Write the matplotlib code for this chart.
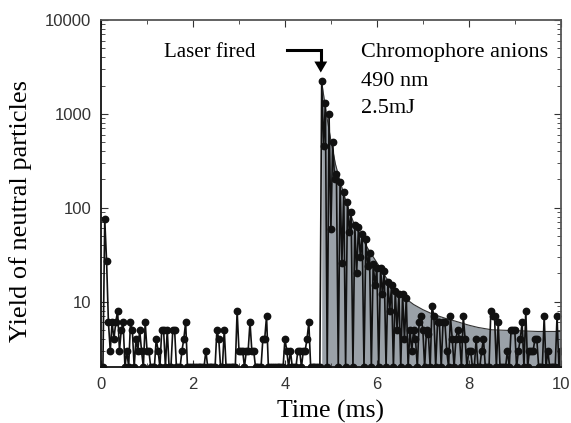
import numpy as np
import matplotlib
matplotlib.use("Agg")
import matplotlib.pyplot as plt
from matplotlib.ticker import LogLocator, NullFormatter, MultipleLocator, FixedLocator

# ---- data ----
dt = 0.04
baseline_counts = [
    2, 75, 27, 6, 3, 6, 4, 6, 8, 3, 5, 6, 2, 3, 2, 6, 5, 2, 4, 3,
    5, 3, 2, 6, 3, 3, 2, 2, 2, 4, 3, 2, 5, 5, 2, 5, 2, 2, 5, 5,
    2, 2, 2, 3, 4, 6, 2, 2, 2, 2, 2, 2, 2, 2, 2, 2, 3, 2, 2, 2,
    2, 2, 5, 4, 2, 2, 5, 2, 2, 2, 2, 2, 2, 8, 3, 3, 3, 2, 3, 3,
    6, 3, 3, 2, 2, 2, 2, 4, 4, 7, 2, 2, 2, 2, 2, 2, 2, 2, 2, 4,
    3, 2, 3, 2, 2, 2, 3, 3, 2, 3, 3, 4, 6, 2, 2, 2, 2, 2, 2,
]
decay_counts = [
    2260, 456, 1300, 2, 1000, 59, 500, 200, 228, 2,
    187, 26, 147, 2, 115, 55, 89, 2, 65, 20,
    62, 30, 52, 2, 46, 24, 33, 2, 25, 15,
    23, 2, 23, 12, 21, 2, 16, 8, 15, 2,
    13, 5, 12, 2, 12, 4, 11, 2, 5, 3,
    5, 4, 2, 6, 7, 5, 2, 5, 4.5, 2,
    9, 7, 2, 6, 6, 2, 6, 6, 3, 2,
    7, 4, 2, 4, 5, 4, 2, 7, 4, 2,
    3, 3, 2, 2, 4, 2, 2, 3, 4, 2,
    2, 2, 8, 7, 7, 2, 6, 2, 2, 2,
    2, 3, 2, 5, 5, 5, 2, 3, 4, 6,
    2, 8, 2, 3, 3, 3, 4, 4, 2, 2,
    2, 7, 2, 3, 2, 2, 2, 2, 7, 2,
    3,
]
counts = baseline_counts + decay_counts
time_ms = np.round(dt * (np.arange(len(counts)) + 1), 2)

fit_t = [4.8, 4.9, 5.0, 5.1, 5.2, 5.3, 5.4, 5.5, 5.6, 5.7, 5.8, 6.0, 6.2,
         6.4, 6.6, 6.8, 7.0, 7.2, 7.5, 7.7, 8.0, 8.2, 8.5, 9.0, 9.5, 10.0]
fit_y = [2200, 1000, 520, 290, 190, 130, 92, 68, 55, 45, 37, 26, 18,
         13.5, 11, 9.3, 8.2, 7.4, 6.6, 6.2, 5.6, 5.3, 5.0, 4.9, 4.8, 4.8]

x_ticks = [0, 2, 4, 6, 8, 10]
y_ticks = [10, 100, 1000, 10000]
y_ticklabels = ["10", "100", "1000", "10000"]

# ---- figure ----
fig = plt.figure(figsize=(5.71, 4.23), dpi=100)
ax = fig.add_axes([0.177, 0.132, 0.805, 0.821])

ax.fill_between(fit_t, fit_y, 1.0, color="#9aa1a8", lw=0, zorder=1)
ax.plot(fit_t, fit_y, color="#333333", lw=0.8, zorder=1.5)
ax.plot(time_ms, counts, color="#111111", lw=1.2, marker="o", ms=4.6,
        mfc="#111111", mec="#111111", zorder=2)

ax.set_yscale("log")
ax.set_xlim(0, 10)
ax.set_ylim(2.0, 10000)

ax.xaxis.set_major_locator(FixedLocator(x_ticks))
ax.xaxis.set_minor_locator(MultipleLocator(1))
ax.yaxis.set_major_locator(FixedLocator(y_ticks))
ax.set_yticklabels(y_ticklabels)
ax.yaxis.set_minor_locator(LogLocator(base=10, subs=np.arange(2, 10)))
ax.yaxis.set_minor_formatter(NullFormatter())

sans = "Liberation Sans"
serif = "Liberation Serif"
ax.tick_params(which="both", direction="in", top=True, right=True,
               colors="#333333", labelcolor="#333333")
ax.tick_params(which="major", length=5, width=0.8, labelsize=12, pad=7)
ax.tick_params(which="minor", length=3, width=0.6)
for lab in ax.get_xticklabels() + ax.get_yticklabels():
    lab.set_fontfamily(sans)

for side in ["left", "bottom"]:
    ax.spines[side].set_linewidth(1.3)
    ax.spines[side].set_color("#111111")
for side in ["top", "right"]:
    ax.spines[side].set_linewidth(1.3)
    ax.spines[side].set_color("#555555")

ax.set_xlabel("Time (ms)", fontfamily=serif, fontsize=18.5, labelpad=6)
ax.set_ylabel("Yield of neutral particles", fontfamily=serif, fontsize=19,
              labelpad=8)
ax.yaxis.set_label_coords(-0.15, 0.45)

# annotations
ax.text(3.37, 4800, "Laser fired", fontfamily=serif, fontsize=15,
        ha="right", va="center_baseline")
ax.plot([4.04, 4.78, 4.78], [4800, 4800, 3550], color="black", lw=2.2,
        solid_joinstyle="miter", zorder=3)
ax.fill([4.64, 4.92, 4.78], [3600, 3600, 2750], color="black", lw=0, zorder=3)

ax.text(5.65, 4800, "Chromophore anions", fontfamily=serif, fontsize=16,
        ha="left", va="center_baseline")
ax.text(5.65, 2355, "490 nm", fontfamily=serif, fontsize=16,
        ha="left", va="center_baseline")
ax.text(5.65, 1216, "2.5mJ", fontfamily=serif, fontsize=16,
        ha="left", va="center_baseline")

fig.savefig("out.png", dpi=100)
